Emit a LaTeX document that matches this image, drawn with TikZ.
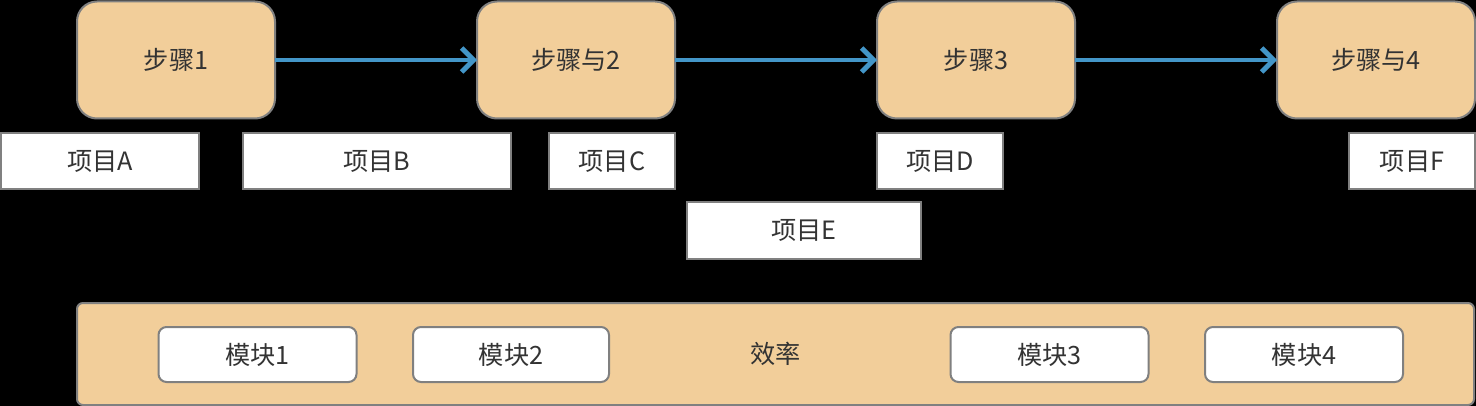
\documentclass[tikz,border=0pt]{standalone}
\usepackage{xcolor}
\usepackage{fontspec}
\setmainfont{Noto Sans CJK SC}
\usepackage{tikz}
\usetikzlibrary{positioning, arrows.meta}
\definecolor{stepFill}{RGB}{242,206,154}
\definecolor{lineGray}{RGB}{128,128,128}
\definecolor{arrowBlue}{RGB}{67,150,200}
\definecolor{textDark}{RGB}{51,51,51}
\tikzstyle{stepbox} = [rectangle, rounded corners=10pt, minimum width=99pt, minimum height=58.5pt, text centered, draw=lineGray, line width=1pt, fill=stepFill, text=textDark, outer sep=0pt]
\tikzstyle{item} = [rectangle, minimum height=28pt, text centered, draw=lineGray, line width=1pt, fill=white, text=textDark, inner sep=0pt, outer sep=0pt]
\tikzstyle{module} = [rectangle, rounded corners=4pt, minimum width=99pt, minimum height=27.5pt, text centered, draw=lineGray, line width=1pt, fill=white, text=textDark, inner sep=0pt, outer sep=0pt]
\tikzstyle{container} = [rectangle, rounded corners=3pt, minimum width=698.5pt, minimum height=51pt, text centered, draw=lineGray, line width=1pt, fill=stepFill, text=textDark, outer sep=0pt]
\tikzstyle{arrow} = [line width=2.4pt, draw=arrowBlue, -{Straight Barb[length=6pt,width=12pt]}]

\begin{document}
\begin{tikzpicture}[font=\fontsize{12.6pt}{15pt}\selectfont]
\fill[black] (0pt,0pt) rectangle (738pt,-203pt);
\useasboundingbox (0pt,0pt) rectangle (738pt,-203pt);

\node (step1) [stepbox] at (88pt,-30pt) {步骤1};
\node (step2) [stepbox, right=101pt of step1] {步骤与2};
\node (step3) [stepbox, right=101pt of step2] {步骤3};
\node (step4) [stepbox, right=101pt of step3] {步骤与4};

\node (itemA) [item, minimum width=99pt] at (50pt,-80.5pt) {项目A};
\node (itemB) [item, minimum width=134pt] at (188.5pt,-80.5pt) {项目B};
\node (itemC) [item, minimum width=63pt] at (306pt,-80.5pt) {项目C};
\node (itemD) [item, minimum width=63pt] at (470pt,-80.5pt) {项目D};
\node (itemE) [item, minimum width=117pt, minimum height=28.5pt] at (402pt,-115.25pt) {项目E};
\node (itemF) [item, minimum width=63pt] at (706pt,-80.5pt) {项目F};

\node (efficiency) [container] at (387.75pt,-177pt) {效率};
\node (module1) [module] at (128.75pt,-177.25pt) {模块1};
\node (module2) [module, minimum width=98pt] at (255.5pt,-177.25pt) {模块2};
\node (module3) [module] at (524.75pt,-177.25pt) {模块3};
\node (module4) [module] at (652pt,-177.25pt) {模块4};

\draw [arrow] (step1) -- (step2);
\draw [arrow] (step2) -- (step3);
\draw [arrow] (step3) -- (step4);
\end{tikzpicture}
\end{document}
